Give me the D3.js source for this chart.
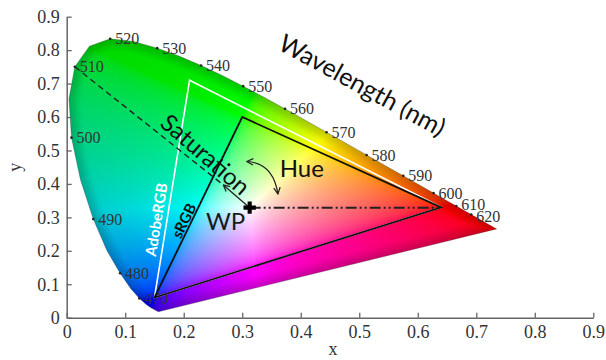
<!DOCTYPE html>
<html>
<head>
<meta charset="utf-8">
<script src="https://cdn.jsdelivr.net/npm/d3@7"></script>
<style>
  html, body { margin: 0; padding: 0; background: #fff; }
  svg { display: block; }
</style>
</head>
<body>
<div id="chart"></div>
<script>
// ---------------- data ----------------
const xTicks = [0, 0.1, 0.2, 0.3, 0.4, 0.5, 0.6, 0.7, 0.8, 0.9];
const yTicks = [0, 0.1, 0.2, 0.3, 0.4, 0.5, 0.6, 0.7, 0.8, 0.9];

// CIE 1931 spectral locus (chromaticity x, y) by wavelength (nm)
const wavelengths = [450, 455, 460, 465, 470, 475, 480, 485, 490, 495, 500, 505, 510, 515, 520, 525, 530, 535, 540, 545, 550, 555, 560, 565, 570, 575, 580, 585, 590, 595, 600, 605, 610, 615, 620, 630, 640, 650, 660, 670, 680, 690, 700];
const locusX = [0.1566, 0.1510, 0.1440, 0.1355, 0.1241, 0.1096, 0.0913, 0.0687, 0.0454, 0.0235, 0.0082, 0.0039, 0.0139, 0.0389, 0.0743, 0.1142, 0.1547, 0.1929, 0.2296, 0.2658, 0.3016, 0.3373, 0.3731, 0.4087, 0.4441, 0.4788, 0.5125, 0.5448, 0.5752, 0.6029, 0.6270, 0.6482, 0.6658, 0.6801, 0.6915, 0.7079, 0.7190, 0.7260, 0.7300, 0.7320, 0.7334, 0.7344, 0.7347];
const locusY = [0.0177, 0.0227, 0.0297, 0.0399, 0.0578, 0.0868, 0.1327, 0.2007, 0.2950, 0.4127, 0.5384, 0.6548, 0.7502, 0.8120, 0.8338, 0.8262, 0.8059, 0.7816, 0.7543, 0.7243, 0.6923, 0.6589, 0.6245, 0.5896, 0.5547, 0.5202, 0.4866, 0.4544, 0.4242, 0.3965, 0.3725, 0.3514, 0.3340, 0.3197, 0.3083, 0.2920, 0.2809, 0.2740, 0.2700, 0.2680, 0.2666, 0.2656, 0.2653];
const labelledWavelengths = [470, 480, 490, 500, 510, 520, 530, 540, 550, 560, 570, 580, 590, 600, 610, 620];

// gamut triangles (R, G, B primaries) and white point
const srgbX = [0.64, 0.30, 0.15];
const srgbY = [0.33, 0.60, 0.06];
const adobeX = [0.64, 0.21, 0.15];
const adobeY = [0.33, 0.71, 0.06];
const whitePoint = [0.3127, 0.3290];

// annotation anchors (data units)
const saturationTip = [0.2677, 0.397];
const hueArc = [[0.3077, 0.467], [0.353, 0.463], [0.361, 0.370]];
const annotations = [
  { text: "Wavelength (nm)", x: 0.505, y: 0.695, angle: 28.5, size: 25 },
  { text: "Saturation", x: 0.237, y: 0.488, angle: 41, size: 24 },
];

// ---------------- layout ----------------
const W = 606, H = 360;
const x = d3.scaleLinear().domain([0, 0.9]).range([66.7, 593.3]);
const y = d3.scaleLinear().domain([0, 0.9]).range([317.7, 16.7]);

const svg = d3.select("#chart").append("svg")
  .attr("width", W).attr("height", H)
  .style("background", "#fff");

const defs = svg.append("defs");
defs.append("marker")
  .attr("id", "arr").attr("viewBox", "0 0 10 10")
  .attr("refX", 9).attr("refY", 5)
  .attr("markerWidth", 8).attr("markerHeight", 8)
  .attr("markerUnits", "userSpaceOnUse")
  .attr("orient", "auto-start-reverse")
  .append("path").attr("d", "M1,1 L9,5 L1,9")
  .attr("fill", "none").attr("stroke", "#222").attr("stroke-width", 1.6);

// ---------------- colour fill ----------------
const pts = wavelengths.map((w, i) => [x(locusX[i]), y(locusY[i])]);
const lineGen = d3.line();
defs.append("clipPath").attr("id", "locusClip")
  .append("path").attr("d", lineGen(pts) + "Z");

function gammaEnc(v) {
  v = Math.max(0, Math.min(1, v));
  return v <= 0.0031308 ? 12.92 * v : 1.055 * Math.pow(v, 1 / 2.4) - 0.055;
}
function chroma(cx, cy) {
  const X = cx / cy, Y = 1, Z = (1 - cx - cy) / cy;
  let r = 3.2406 * X - 1.5372 * Y - 0.4986 * Z;
  let g = -0.9689 * X + 1.8758 * Y + 0.0415 * Z;
  let b = 0.0557 * X - 0.2040 * Y + 1.0570 * Z;
  const mx = Math.max(r, g, b);
  const neg = -Math.min(r, 0) - Math.min(g, 0) - Math.min(b, 0);
  const f = mx / (mx + 0.55 * neg);
  return [Math.max(r, 0) / mx * f, Math.max(g, 0) / mx * f, Math.max(b, 0) / mx * f];
}
function segDist(px, py, a, b) {
  const dx = b[0] - a[0], dy = b[1] - a[1];
  let t = ((px - a[0]) * dx + (py - a[1]) * dy) / (dx * dx + dy * dy);
  t = Math.max(0, Math.min(1, t));
  const ex = a[0] + t * dx - px, ey = a[1] + t * dy - py;
  return Math.sqrt(ex * ex + ey * ey);
}
const x0 = Math.floor(d3.min(pts, p => p[0])) - 2, x1 = Math.ceil(d3.max(pts, p => p[0])) + 2;
const y0 = Math.floor(d3.min(pts, p => p[1])) - 2, y1 = Math.ceil(d3.max(pts, p => p[1])) + 2;
const cw = x1 - x0, ch = y1 - y0;
const canvas = document.createElement("canvas");
canvas.width = cw; canvas.height = ch;
const ctx = canvas.getContext("2d");
const img = ctx.createImageData(cw, ch);
const closed = pts.concat([pts[0]]);
for (let j = 0; j < ch; j++) {
  for (let i = 0; i < cw; i++) {
    const px = x0 + i + 0.5, py = y0 + j + 0.5;
    let cx = x.invert(px), cy = y.invert(py);
    if (cy < 0.005) cy = 0.005;
    let c = chroma(cx, cy);
    let d = Infinity;
    for (let k = 0; k < closed.length - 1; k++) {
      const dd = segDist(px, py, closed[k], closed[k + 1]);
      if (dd < d) d = dd;
    }
    const inside = d3.polygonContains(pts, [px, py]);
    if (!inside) d = 0;
    const t = Math.min(1, d / 14);
    const shade = 0.66 + 0.34 * (t * t * (3 - 2 * t));
    const o = (j * cw + i) * 4;
    img.data[o] = Math.round(255 * gammaEnc(c[0] * shade));
    img.data[o + 1] = Math.round(255 * gammaEnc(c[1] * shade));
    img.data[o + 2] = Math.round(255 * gammaEnc(c[2] * shade));
    img.data[o + 3] = 255;
  }
}
ctx.putImageData(img, 0, 0);
svg.append("image")
  .attr("href", canvas.toDataURL())
  .attr("x", x0).attr("y", y0).attr("width", cw).attr("height", ch)
  .attr("clip-path", "url(#locusClip)");
svg.append("path").attr("d", lineGen(pts) + "Z")
  .attr("fill", "none").attr("stroke", "#222").attr("stroke-opacity", 0.35).attr("stroke-width", 0.8);

// ---------------- axes ----------------
const fmt = d => d === 0 ? "0" : d.toFixed(1);
const xAxis = svg.append("g").attr("transform", `translate(0,${y(0)})`)
  .call(d3.axisBottom(x).tickValues(xTicks).tickFormat(fmt).tickSizeInner(-5).tickSizeOuter(0).tickPadding(8));
const yAxis = svg.append("g").attr("transform", `translate(${x(0)},0)`)
  .call(d3.axisLeft(y).tickValues(yTicks).tickFormat(fmt).tickSizeInner(-5).tickSizeOuter(0).tickPadding(7));
[xAxis, yAxis].forEach(g => {
  g.selectAll("path.domain").attr("stroke", "#666").attr("stroke-width", 1.5);
  g.selectAll(".tick line").attr("stroke", "#666").attr("stroke-width", 1.3);
  g.selectAll(".tick text").attr("fill", "#333")
    .style("font-family", "'Liberation Serif', 'Times New Roman', serif").style("font-size", "18px");
});
svg.append("text").text("x")
  .attr("x", x(0.455)).attr("y", 355)
  .attr("text-anchor", "middle").attr("fill", "#333")
  .style("font-family", "'Liberation Serif', serif").style("font-size", "18px");
svg.append("text").text("y")
  .attr("transform", `translate(21,${y(0.45)}) rotate(-90)`)
  .attr("text-anchor", "middle").attr("fill", "#333")
  .style("font-family", "'Liberation Serif', serif").style("font-size", "18px");

// ---------------- wavelength dots + labels ----------------
const labelData = labelledWavelengths.map(w => {
  const i = wavelengths.indexOf(w);
  return { w, lx: locusX[i], ly: locusY[i] };
});
svg.append("g").selectAll("circle").data(labelData).join("circle")
  .attr("cx", d => x(d.lx)).attr("cy", d => y(d.ly)).attr("r", 1.3).attr("fill", "#222");
svg.append("g").selectAll("text").data(labelData).join("text")
  .text(d => d.w)
  .attr("x", d => x(d.lx) + 5).attr("y", d => y(d.ly) + (d.w === 610 ? -2 : d.w === 620 ? 2 : 0))
  .attr("dy", "0.35em")
  .attr("fill", "#333")
  .style("font-family", "'Liberation Serif', 'Times New Roman', serif").style("font-size", "16px");

// ---------------- triangles ----------------
const tri = (xs, ys) => lineGen(xs.map((v, i) => [x(v), y(ys[i])])) + "Z";
svg.append("path").attr("d", tri(adobeX, adobeY))
  .attr("fill", "none").attr("stroke", "#fff").attr("stroke-width", 1.6).attr("stroke-linejoin", "miter");
svg.append("path").attr("d", tri(srgbX, srgbY))
  .attr("fill", "none").attr("stroke", "#111").attr("stroke-width", 1.8).attr("stroke-linejoin", "miter");

// ---------------- saturation & hue lines ----------------
const i510 = wavelengths.indexOf(510);
svg.append("line")
  .attr("x1", x(locusX[i510])).attr("y1", y(locusY[i510]))
  .attr("x2", x(saturationTip[0])).attr("y2", y(saturationTip[1]))
  .attr("stroke", "#222").attr("stroke-width", 1.4).attr("stroke-dasharray", "6,4");
svg.append("line")
  .attr("x1", x(whitePoint[0])).attr("y1", y(whitePoint[1]))
  .attr("x2", x(saturationTip[0])).attr("y2", y(saturationTip[1]))
  .attr("stroke", "#222").attr("stroke-width", 1.3).attr("marker-end", "url(#arr)");
svg.append("line")
  .attr("x1", x(whitePoint[0])).attr("y1", y(whitePoint[1]))
  .attr("x2", x(srgbX[0])).attr("y2", y(whitePoint[1]))
  .attr("stroke", "#222").attr("stroke-width", 2).attr("stroke-dasharray", "11,3,2,3,2,3");
const arcPath = d3.path();
arcPath.moveTo(x(hueArc[0][0]), y(hueArc[0][1]));
arcPath.quadraticCurveTo(x(hueArc[1][0]), y(hueArc[1][1]), x(hueArc[2][0]), y(hueArc[2][1]));
svg.append("path").attr("d", arcPath.toString())
  .attr("fill", "none").attr("stroke", "#222").attr("stroke-width", 1.2)
  .attr("marker-start", "url(#arr)").attr("marker-end", "url(#arr)");
svg.append("path")
  .attr("d", d3.symbol(d3.symbolCross, 85)())
  .attr("transform", `translate(${x(whitePoint[0])},${y(whitePoint[1])})`)
  .attr("fill", "#000");

// ---------------- text annotations ----------------
const sans = "Lato, 'Open Sans', 'DejaVu Sans', sans-serif";
svg.append("g").selectAll("text").data(annotations).join("text")
  .text(d => d.text)
  .attr("transform", d => `translate(${x(d.x)},${y(d.y)}) rotate(${d.angle})`)
  .attr("text-anchor", "middle").attr("dy", "0.35em")
  .attr("fill", "#111")
  .style("font-family", sans).style("font-size", d => d.size + "px");
svg.append("text").text("Hue")
  .attr("x", x(0.364)).attr("y", y(0.42))
  .attr("fill", "#111")
  .style("font-family", sans).style("font-size", "24px");
svg.append("text").text("WP")
  .attr("x", x(0.238)).attr("y", y(0.263))
  .attr("fill", "#1a1a1a")
  .style("font-family", sans).style("font-size", "24px");
const sAng = -Math.atan2(y(srgbY[1]) - y(srgbY[2]), x(srgbX[1]) - x(srgbX[2])) * 180 / Math.PI;
svg.append("text").text("sRGB")
  .attr("transform", `translate(${x(0.2005)},${y(0.29)}) rotate(${-sAng})`)
  .attr("text-anchor", "middle").attr("dy", "0.35em")
  .attr("fill", "#111").attr("font-weight", "bold")
  .style("font-family", sans).style("font-size", "15px");
const aAng = -Math.atan2(y(adobeY[1]) - y(adobeY[2]), x(adobeX[1]) - x(adobeX[2])) * 180 / Math.PI;
svg.append("text").text("AdobeRGB")
  .attr("transform", `translate(${x(0.1535)},${y(0.293)}) rotate(${-aAng})`)
  .attr("text-anchor", "middle").attr("dy", "0.35em")
  .attr("fill", "#fff").attr("font-weight", "bold")
  .style("font-family", sans).style("font-size", "15px");
</script>
</body>
</html>
